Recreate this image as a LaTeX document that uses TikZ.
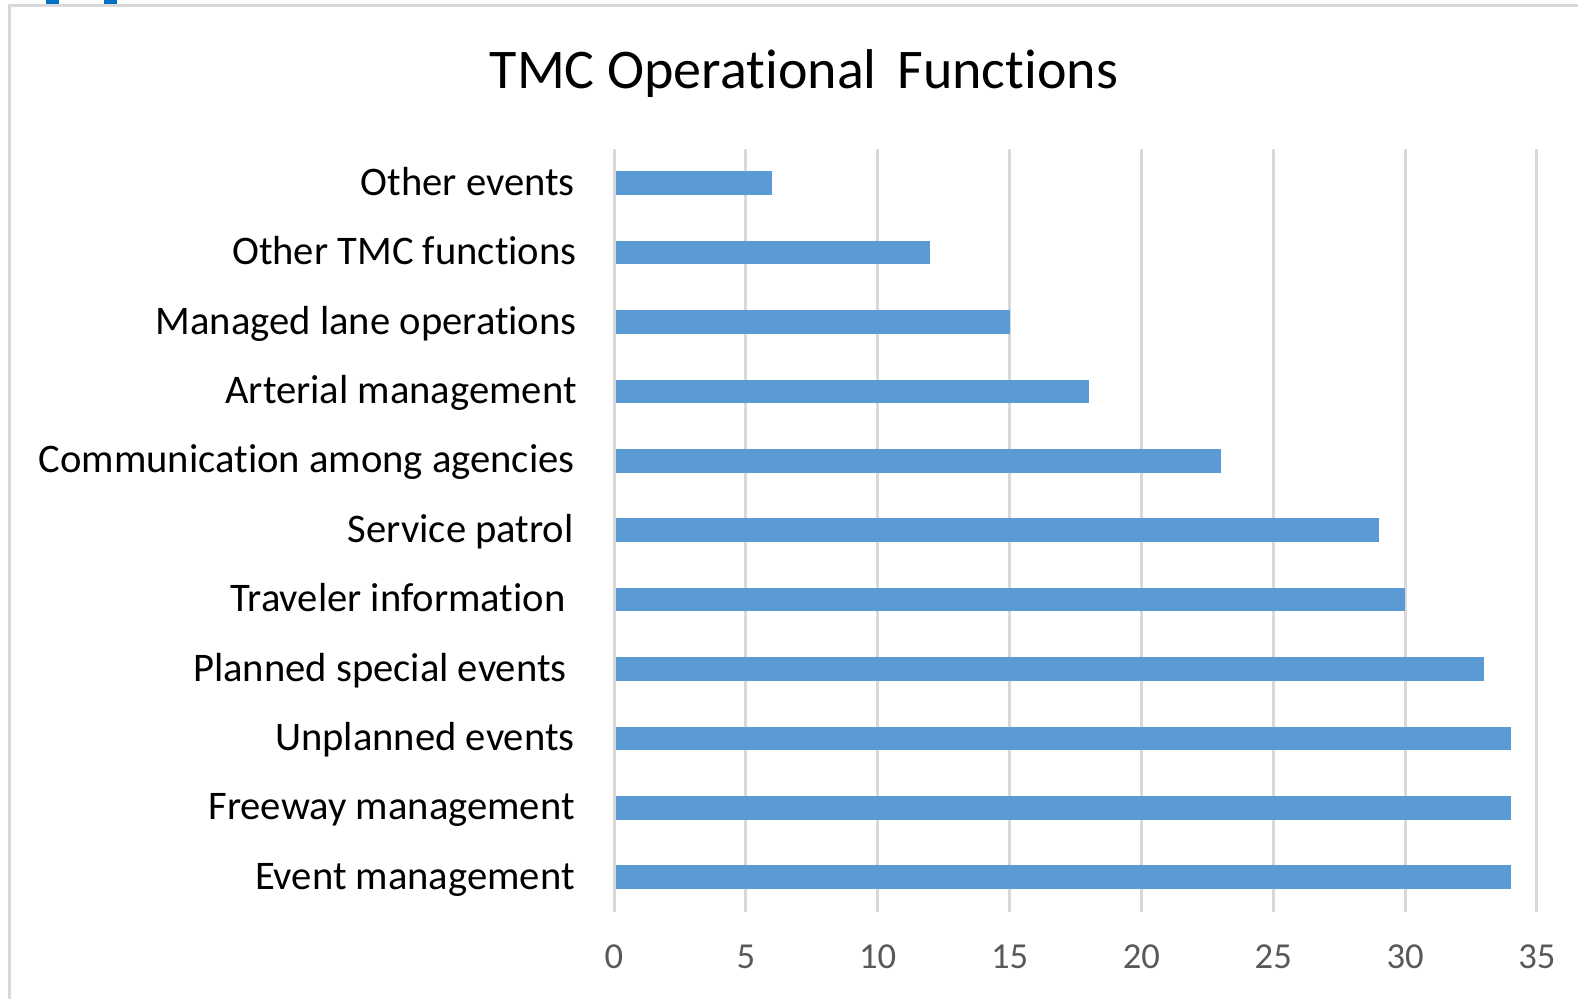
\documentclass[tikz,border=0pt]{standalone}
\usepackage{fontspec}
\setmainfont{Carlito}[Ligatures={NoCommon,NoContextual}]
\definecolor{barblue}{HTML}{5B9BD5}
\definecolor{gridgray}{HTML}{D9D9D9}
\definecolor{tickgray}{HTML}{595959}
\definecolor{markblue}{HTML}{0070C0}
\tikzset{
  bar/.style={fill=barblue, draw=none},
  gridline/.style={draw=gridgray, line width=1.5pt},
  catlabel/.style={anchor=base east, inner sep=0pt, font=\fontsize{20.3pt}{24pt}\selectfont, text=black},
  ticklabel/.style={anchor=base, inner sep=0pt, font=\fontsize{18.3pt}{22pt}\selectfont, text=tickgray},
  titlelabel/.style={anchor=base, inner sep=0pt, font=\fontsize{28pt}{32pt}\selectfont, text=black},
}
\begin{document}
\begin{tikzpicture}[x=0.5pt, y=-0.5pt]
\useasboundingbox (0,0) rectangle (1578,998);
\fill[white] (0,0) rectangle (1578,998);
\begin{scope}
\clip (0,0) rectangle (1578,998);
\draw[draw=gridgray, line width=1.6pt] (9.5,5.5) rectangle (1600,1020);
\end{scope}
\fill[markblue] (46,0) rectangle (59,4);
\fill[markblue] (104,0) rectangle (117,4);
\node[titlelabel] (title) at (804,88) {TMC Operational\hspace{4pt} Functions};
% gridlines and ticks
\foreach \v [count=\i] in {0,5,...,35} {
  \coordinate (gt\i) at ({614+\v*26.37},149);
  \coordinate (gb\i) at ({614+\v*26.37},912);
  \draw[gridline] (gt\i) -- (gb\i);
  \node[ticklabel] (tick\i) at ({614+\v*26.37},968) {\v};
}
% bars: value / label / right edge of label; rows from top
\foreach \val/\lab/\rx [count=\r from 0] in {
  6/Other events/575,
  12/Other TMC functions/577,
  15/Managed lane operations/577,
  18/Arterial management/577,
  23/Communication among agencies/575,
  29/Service patrol/574,
  30/Traveler information/566,
  33/Planned special events/567,
  34/Unplanned events/575,
  34/Freeway management/575,
  34/Event management/575} {
  \pgfmathsetmacro{\cy}{183.2+\r*69.4}
  \fill[bar] (615.5,\cy-11.8) rectangle ({614+\val*26.37},\cy+11.8);
  \node[catlabel] (lab\r) at (\rx,\cy+12) {\lab};
}
\end{tikzpicture}
\end{document}
